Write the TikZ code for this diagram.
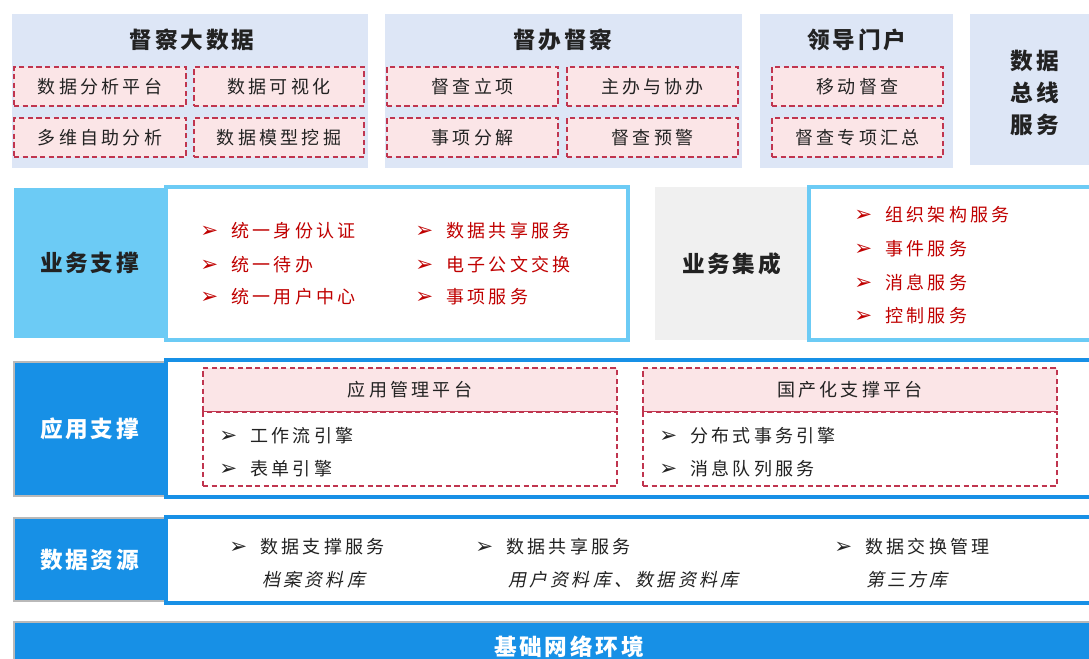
\documentclass[tikz,border=0pt]{standalone}
\usepackage{fontspec}
\setmainfont{Noto Sans CJK SC}[AutoFakeSlant=0.2]
\newfontfamily\dingfont{DejaVu Sans}
\usetikzlibrary{positioning}
\usetikzlibrary{fit}

\definecolor{topbg}{HTML}{DDE6F6}
\definecolor{pinkbg}{HTML}{FBE5E7}
\definecolor{dashred}{HTML}{C0354F}
\definecolor{itemred}{HTML}{C00000}
\definecolor{skyblue}{HTML}{6CCBF5}
\definecolor{deepblue}{HTML}{1790E6}
\definecolor{greybg}{HTML}{F0F0F0}
\definecolor{ink}{HTML}{222222}

\newcommand\titlefont{\fontsize{17}{24}\selectfont\bfseries\addfontfeature{LetterSpace=12}}
\newcommand\itemfont{\fontsize{13.5}{16}\selectfont\addfontfeature{LetterSpace=18}}
\newcommand\arr{{\dingfont\bfseries\fontsize{16}{16}\selectfont ➢}\hspace{10pt}}

\begin{document}
\begin{tikzpicture}[x=0.75pt,y=-0.75pt,
  topbox/.style={fill=topbg,inner sep=0pt},
  dbox/.style={draw=dashred,fill=pinkbg,line width=1.2pt,dash pattern=on 4pt off 2.5pt,inner sep=0pt},
  dtext/.style={text=ink,font=\itemfont,inner sep=0pt},
  ttext/.style={text=ink,font=\titlefont,inner sep=0pt},
  wtext/.style={text=white,font=\titlefont,inner sep=0pt},
  lbox/.style={inner sep=0pt},
  wbox/.style={fill=white,inner sep=0pt,line width=2.4pt},
  ritem/.style={anchor=west,inner sep=0pt,text=itemred,font=\itemfont},
  bitem/.style={anchor=west,inner sep=0pt,text=ink,font=\itemfont}]

  \useasboundingbox (0,0) rectangle (1089,659);

  % top row
  \node[topbox,fit={(12,14) (368,168)}] (bigdata) {};
  \node[ttext] (bigdataT) at (192,40) {督察大数据};
  \node[dbox,fit={(14,67) (186,106)},label={[dtext]center:数据分析平台}] (bd1) {};
  \node[dbox,fit={(194,67) (364,106)},label={[dtext]center:数据可视化}] (bd2) {};
  \node[dbox,fit={(14,118) (186,157)},label={[dtext]center:多维自助分析}] (bd3) {};
  \node[dbox,fit={(194,118) (364,157)},label={[dtext]center:数据模型挖掘}] (bd4) {};

  \node[topbox,fit={(385,14) (742,168)}] (superv) {};
  \node[ttext] (supervT) at (563,40) {督办督察};
  \node[dbox,fit={(387,67) (558,106)},label={[dtext]center:督查立项}] (sv1) {};
  \node[dbox,fit={(567,67) (738,106)},label={[dtext]center:主办与协办}] (sv2) {};
  \node[dbox,fit={(387,118) (558,157)},label={[dtext]center:事项分解}] (sv3) {};
  \node[dbox,fit={(567,118) (738,157)},label={[dtext]center:督查预警}] (sv4) {};

  \node[topbox,fit={(760,14) (953,168)}] (portal) {};
  \node[ttext] (portalT) at (857,40) {领导门户};
  \node[dbox,fit={(772,67) (943,106)},label={[dtext]center:移动督查}] (pt1) {};
  \node[dbox,fit={(772,118) (943,157)},label={[dtext]center:督查专项汇总}] (pt2) {};

  \node[topbox,fit={(970,14) (1095,165)}] (bus) {};
  \node[ttext,align=center] (busT) at (1035,93) {数据\\总线\\服务};

  % business support
  \node[lbox,fill=skyblue,fit={(14,188) (165,338)},label={[ttext]center:业务支撑}] (biz) {};
  \node[wbox,draw=skyblue,fit={(166,187) (628,340)}] (bizbox) {};
  \foreach \t/\y [count=\i] in {统一身份认证/231,统一待办/265,统一用户中心/297}
    \node[ritem] (bizA\i) at (200,\y) {\arr\t};
  \foreach \t/\y [count=\i] in {数据共享服务/231,电子公文交换/265,事项服务/297}
    \node[ritem] (bizB\i) at (415,\y) {\arr\t};

  \node[lbox,fill=greybg,fit={(655,187) (808,340)},label={[ttext]center:业务集成}] (integ) {};
  \node[wbox,draw=skyblue,fit={(809,187) (1095,340)}] (integbox) {};
  \foreach \t/\y [count=\i] in {组织架构服务/215,事件服务/249,消息服务/283,控制服务/316}
    \node[ritem] (integ\i) at (854,\y) {\arr\t};

  % application support
  \node[lbox,fill=deepblue,draw=gray!55,line width=1pt,fit={(14,362) (165,496)},label={[wtext]center:应用支撑}] (app) {};
  \node[wbox,draw=deepblue,fit={(166,360) (1095,497)}] (appbox) {};
  \node[dbox,fit={(203,368) (617,412)},label={[dtext]center:应用管理平台}] (mgmt) {};
  \node[dbox,fill=white,fit={(203,412) (617,486)}] (mgmtbody) {};
  \node[bitem] (mgmt1) at (219,436) {\arr 工作流引擎};
  \node[bitem] (mgmt2) at (219,469) {\arr 表单引擎};
  \node[dbox,fit={(643,368) (1057,412)},label={[dtext]center:国产化支撑平台}] (dom) {};
  \node[dbox,fill=white,fit={(643,412) (1057,486)}] (dombody) {};
  \node[bitem] (dom1) at (659,436) {\arr 分布式事务引擎};
  \node[bitem] (dom2) at (659,469) {\arr 消息队列服务};

  % data resources
  \node[lbox,fill=deepblue,draw=gray!55,line width=1pt,fit={(14,518) (165,601)},label={[wtext]center:数据资源}] (data) {};
  \node[wbox,draw=deepblue,fit={(166,517) (1095,603)}] (databox) {};
  \node[bitem] (data1) at (229,547) {\arr 数据支撑服务};
  \node[bitem] (data2) at (475,547) {\arr 数据共享服务};
  \node[bitem] (data3) at (834,547) {\arr 数据交换管理};
  \node[bitem,font=\itemfont\itshape] (data1s) at (262,580) {档案资料库};
  \node[bitem,font=\itemfont\itshape] (data2s) at (508,580) {用户资料库、数据资料库};
  \node[bitem,font=\itemfont\itshape] (data3s) at (866,580) {第三方库};

  % network
  \node[lbox,fill=deepblue,draw=gray!55,line width=1pt,fit={(14,622) (1095,668)}] (net) {};
  \node[wtext] (netT) at (569,647) {基础网络环境};
\end{tikzpicture}
\end{document}
